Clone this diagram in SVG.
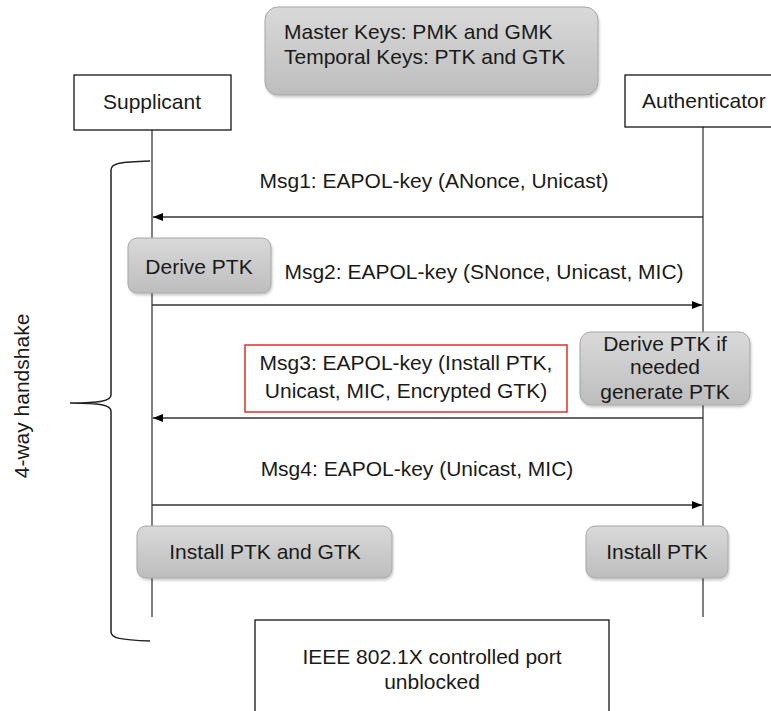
<svg xmlns="http://www.w3.org/2000/svg" width="771" height="711" viewBox="0 0 771 711">
  <defs>
    <linearGradient id="grayFill" x1="0" y1="0" x2="0" y2="1">
      <stop offset="0" stop-color="#d9d9d9"/>
      <stop offset="1" stop-color="#bdbdbd"/>
    </linearGradient>
    <marker id="arrow" viewBox="0 0 10 10" refX="10" refY="5" markerWidth="10" markerHeight="10" markerUnits="userSpaceOnUse" orient="auto">
      <path d="M0,1 L10,5 L0,9 Z" fill="#000"/>
    </marker>
    <filter id="shadow" x="-10%" y="-10%" width="130%" height="140%">
      <feDropShadow dx="1" dy="2" stdDeviation="1.2" flood-color="#000" flood-opacity="0.2"/>
    </filter>
  </defs>
  <style>
    text { font-family: "Liberation Sans", Arial, sans-serif; font-size: 21px; fill: #1a1a1a; }
    .gray { fill: url(#grayFill); stroke: #a6a6a6; stroke-width: 1; filter: url(#shadow); }
    .plain { fill: #fff; stroke: #000; stroke-width: 1.2; }
    .life { stroke: #555; stroke-width: 1.5; fill: none; }
    .msg { stroke: #333; stroke-width: 1.5; fill: none; marker-end: url(#arrow); }
    .mid { text-anchor: middle; }
  </style>

  <rect width="771" height="711" fill="#fff"/>

  <!-- key legend -->
  <g id="keys">
    <rect class="gray" x="265" y="7" width="333" height="88" rx="13"/>
    <text x="284" y="39">Master Keys: PMK and GMK</text>
    <text x="284" y="64">Temporal Keys: PTK and GTK</text>
  </g>

  <!-- lifelines and messages -->
  <g id="connectors">
    <line class="life" x1="152" y1="130" x2="152" y2="617"/>
    <line class="life" x1="703" y1="127" x2="703" y2="617"/>
    <line class="msg" x1="703" y1="217" x2="153" y2="217"/>
    <line class="msg" x1="152" y1="305" x2="702" y2="305"/>
    <line class="msg" x1="703" y1="418" x2="153" y2="418"/>
    <line class="msg" x1="152" y1="505" x2="702" y2="505"/>
  </g>

  <g id="supplicant">
    <rect class="plain" x="74" y="75" width="157" height="55"/>
    <text class="mid" x="152" y="109">Supplicant</text>
  </g>

  <g id="authenticator">
    <rect class="plain" x="625" y="75" width="150" height="52"/>
    <text x="642" y="108">Authenticator</text>
  </g>

  <g id="msg1">
    <text class="mid" x="434" y="188">Msg1: EAPOL-key (ANonce, Unicast)</text>
  </g>

  <g id="derive-ptk">
    <rect class="gray" x="128" y="238" width="143" height="55" rx="9"/>
    <text class="mid" x="199" y="274">Derive PTK</text>
  </g>

  <g id="msg2">
    <text class="mid" x="484" y="279">Msg2: EAPOL-key (SNonce, Unicast, MIC)</text>
  </g>

  <g id="msg3">
    <rect x="245" y="345" width="322" height="67" fill="#fff" stroke="#e0302a" stroke-width="1.5"/>
    <text class="mid" x="406" y="370">Msg3: EAPOL-key (Install PTK,</text>
    <text class="mid" x="406" y="398">Unicast, MIC, Encrypted GTK)</text>
  </g>

  <g id="derive-generate-ptk">
    <rect class="gray" x="580" y="332" width="170" height="73" rx="11"/>
    <text class="mid" x="665" y="351">Derive PTK if</text>
    <text class="mid" x="665" y="374">needed</text>
    <text class="mid" x="665" y="399">generate PTK</text>
  </g>

  <g id="msg4">
    <text class="mid" x="417" y="476">Msg4: EAPOL-key (Unicast, MIC)</text>
  </g>

  <g id="install-ptk-gtk">
    <rect class="gray" x="137" y="526" width="255" height="52" rx="9"/>
    <text class="mid" x="265" y="559">Install PTK and GTK</text>
  </g>

  <g id="install-ptk">
    <rect class="gray" x="586" y="526" width="142" height="52" rx="9"/>
    <text class="mid" x="657" y="559">Install PTK</text>
  </g>

  <g id="port-unblocked">
    <rect class="plain" x="255" y="620" width="354" height="100"/>
    <text class="mid" x="432" y="664">IEEE 802.1X controlled port</text>
    <text class="mid" x="432" y="689">unblocked</text>
  </g>

  <!-- brace spanning the four messages -->
  <g id="handshake">
    <path d="M150,161 C120,162 111,163 111,170 L111,395 C111,401 100,403 70,403 C100,403 111,405 111,411 L111,632 C111,638 120,640 150,641" fill="none" stroke="#222" stroke-width="1.5"/>
    <text class="mid" transform="translate(29,396) rotate(-90)">4-way handshake</text>
  </g>
</svg>
